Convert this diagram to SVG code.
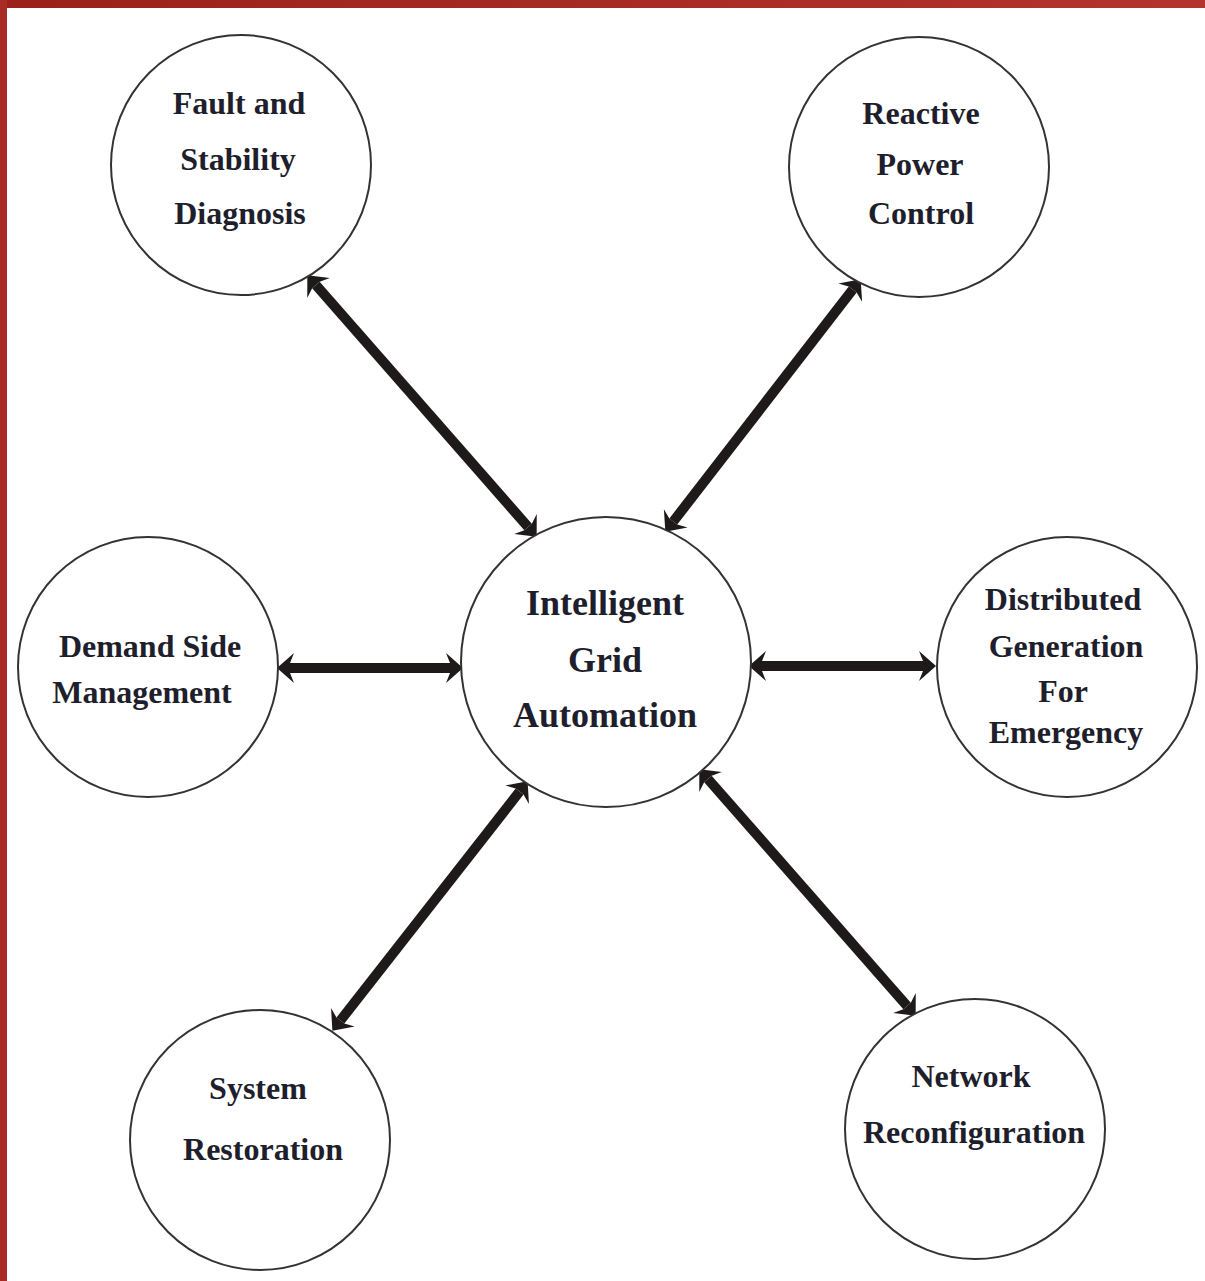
<svg xmlns="http://www.w3.org/2000/svg" width="1205" height="1281" viewBox="0 0 1205 1281">
<style>
.node circle{fill:#fff;stroke:#333;stroke-width:2}
.node text{font-family:"Liberation Serif","Times New Roman",serif;font-weight:bold;font-size:32px;fill:#1e1e2c;text-anchor:middle}
#center text{font-size:36px}
.conn line{stroke:#1e1a1a;stroke-width:10;fill:none;marker-start:url(#ah);marker-end:url(#ah)}
</style>
<defs>
<linearGradient id="topg" x1="0" y1="0" x2="1" y2="0">
<stop offset="0" stop-color="#9a221b"/>
<stop offset="1" stop-color="#b3342c"/>
</linearGradient>
<marker id="ah" markerUnits="userSpaceOnUse" viewBox="-20 -20 40 40" markerWidth="40" markerHeight="40" refX="0" refY="0" orient="auto-start-reverse">
<path d="M13,0 L-4,-15 L0,-5 L0,5 L-4,15 Z" fill="#1e1a1a"/>
</marker>
</defs>
<rect x="0" y="0" width="1205" height="1281" fill="#fff"/>
<rect x="0" y="0" width="1205" height="8" fill="url(#topg)"/>
<rect x="0" y="0" width="7" height="1281" fill="#a82c24"/>

<g class="conn" id="connectors">
<line x1="315.9" y1="285.0" x2="528.1" y2="527.0"/>
<line x1="852.7" y1="289.5" x2="673.3" y2="521.5"/>
<line x1="290" y1="668" x2="450" y2="668"/>
<line x1="762" y1="666" x2="923" y2="666"/>
<line x1="519.6" y1="791.5" x2="340.4" y2="1020.5"/>
<line x1="707.9" y1="779.0" x2="907.1" y2="1006.0"/>
</g>

<g class="node" id="fault">
<circle cx="241" cy="165" r="130"/>
<text x="239" y="114">Fault and</text>
<text x="238" y="170">Stability</text>
<text x="240" y="224">Diagnosis</text>
</g>
<g class="node" id="reactive">
<circle cx="919" cy="167" r="130"/>
<text x="921" y="124">Reactive</text>
<text x="920" y="175">Power</text>
<text x="921" y="224">Control</text>
</g>
<g class="node" id="center">
<circle cx="606" cy="662" r="145"/>
<text x="605" y="615">Intelligent</text>
<text x="605" y="672">Grid</text>
<text x="605" y="727">Automation</text>
</g>
<g class="node" id="demand">
<circle cx="148" cy="667" r="130"/>
<text x="150" y="657">Demand Side</text>
<text x="142" y="703">Management</text>
</g>
<g class="node" id="distributed">
<circle cx="1067" cy="667" r="130"/>
<text x="1063" y="610">Distributed</text>
<text x="1066" y="657">Generation</text>
<text x="1063" y="702">For</text>
<text x="1066" y="743">Emergency</text>
</g>
<g class="node" id="restoration">
<circle cx="260" cy="1140" r="130"/>
<text x="258" y="1099">System</text>
<text x="263" y="1160">Restoration</text>
</g>
<g class="node" id="network">
<circle cx="975" cy="1129" r="130"/>
<text x="971" y="1087">Network</text>
<text x="974" y="1143">Reconfiguration</text>
</g>
</svg>
